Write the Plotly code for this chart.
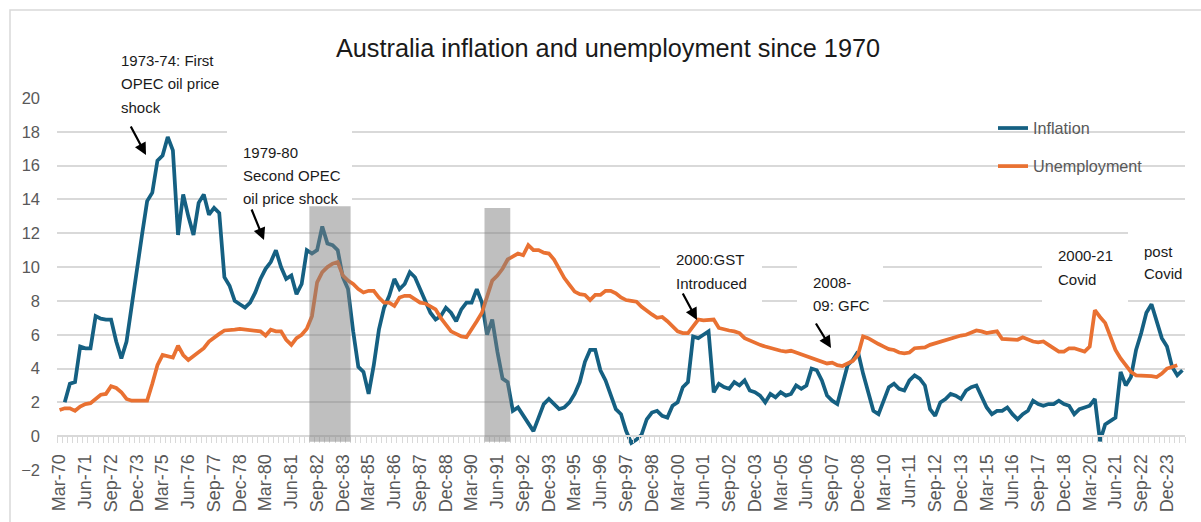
import plotly.graph_objects as go

# ---------------- data ----------------
MONTHS = ["Mar", "Jun", "Sep", "Dec"]
QUARTERS = [f"{m}-{y % 100:02d}" for y in range(1970, 2025) for m in MONTHS][:219]  # Mar-70 .. Sep-24

TICK_LABELS = ["Mar-70", "Jun-71", "Sep-72", "Dec-73", "Mar-75", "Jun-76", "Sep-77", "Dec-78",
               "Mar-80", "Jun-81", "Sep-82", "Dec-83", "Mar-85", "Jun-86", "Sep-87", "Dec-88",
               "Mar-90", "Jun-91", "Sep-92", "Dec-93", "Mar-95", "Jun-96", "Sep-97", "Dec-98",
               "Mar-00", "Jun-01", "Sep-02", "Dec-03", "Mar-05", "Jun-06", "Sep-07", "Dec-08",
               "Mar-10", "Jun-11", "Sep-12", "Dec-13", "Mar-15", "Jun-16", "Sep-17", "Dec-18",
               "Mar-20", "Jun-21", "Sep-22", "Dec-23"]

# Inflation (%), plotted from Jun-70
INFLATION_START = "Jun-70"
INFLATION = [
    2.0, 3.1, 3.2, 5.3, 5.2, 5.2, 7.1, 6.95, 6.9, 6.9,
    5.6, 4.6, 5.6, 7.8, 9.7, 11.9, 13.9, 14.4, 16.3, 16.6,
    17.7, 16.9, 11.9, 14.3, 13.0, 11.9, 13.8, 14.3, 13.1, 13.5,
    13.2, 9.4, 8.9, 8.0, 7.8, 7.6, 7.9, 8.5, 9.3, 9.9,
    10.3, 11.0, 10.0, 9.3, 9.5, 8.4, 9.0, 11.0, 10.8, 11.0,
    12.4, 11.4, 11.3, 11.0, 9.4, 8.7, 6.2, 4.1, 3.8, 2.5,
    4.2, 6.3, 7.6, 8.3, 9.3, 8.7, 9.0, 9.7, 9.4, 8.7,
    7.9, 7.3, 6.9, 7.1, 7.6, 7.3, 6.8, 7.5, 7.9, 7.9,
    8.7, 7.9, 6.0, 6.9, 5.0, 3.4, 3.2, 1.5, 1.7, 1.2,
    0.8, 0.3, 1.1, 1.9, 2.2, 1.9, 1.6, 1.7, 2.0, 2.5,
    3.2, 4.4, 5.1, 5.1, 3.9, 3.3, 2.4, 1.6, 1.3, 0.3,
    -0.4, -0.2, 0.1, 1.0, 1.4, 1.5, 1.2, 1.1, 1.8, 2.0,
    2.9, 3.2, 5.9, 5.8, 6.0, 6.2, 2.6, 3.1, 2.9, 2.8,
    3.2, 3.0, 3.3, 2.7, 2.6, 2.4, 2.0, 2.5, 2.3, 2.6,
    2.4, 2.5, 3.0, 2.8, 3.0, 4.0, 3.9, 3.3, 2.4, 2.1,
    1.9, 3.0, 4.2, 4.5, 5.0, 3.7, 2.5, 1.5, 1.3, 2.1,
    2.9, 3.1, 2.8, 2.7, 3.3, 3.6, 3.4, 3.0, 1.6, 1.2,
    2.0, 2.2, 2.5, 2.4, 2.2, 2.7, 2.9, 3.0, 2.3, 1.7,
    1.3, 1.5, 1.5, 1.7, 1.3, 1.0, 1.3, 1.5, 2.1, 1.9,
    1.8, 1.9, 1.9, 2.1, 1.9, 1.8, 1.3, 1.6, 1.7, 1.8,
    2.2, -0.3, 0.7, 0.9, 1.1, 3.8, 3.0, 3.5, 5.1, 6.1,
    7.3, 7.8, 6.8, 5.8, 5.3, 4.1, 3.6, 3.9,
]

# Unemployment rate (%), plotted from Mar-70
UNEMPLOYMENT_START = "Mar-70"
UNEMPLOYMENT = [
    1.55, 1.65, 1.65, 1.5, 1.75, 1.9, 1.95, 2.2, 2.45, 2.5,
    2.95, 2.85, 2.6, 2.2, 2.1, 2.1, 2.1, 2.1, 3.1, 4.2,
    4.8, 4.75, 4.65, 5.35, 4.8, 4.5, 4.75, 4.95, 5.2, 5.6,
    5.85, 6.05, 6.25, 6.25, 6.3, 6.35, 6.3, 6.25, 6.25, 6.2,
    5.95, 6.3, 6.2, 6.2, 5.7, 5.4, 5.8, 6.0, 6.35, 7.1,
    9.1, 9.7, 10.0, 10.2, 10.3, 9.5, 9.2, 9.0, 8.7, 8.5,
    8.6, 8.6, 8.2, 7.9, 7.9, 7.7, 8.2, 8.3, 8.3, 8.1,
    7.9, 7.85, 7.65, 7.5, 7.0, 6.6, 6.2, 6.05, 5.9, 5.85,
    6.3, 6.8, 7.3, 8.2, 9.2, 9.5, 9.9, 10.45, 10.6, 10.8,
    10.7, 11.3, 11.0, 11.0, 10.85, 10.8, 10.45, 9.85, 9.35, 8.95,
    8.55, 8.4, 8.35, 8.05, 8.35, 8.35, 8.6, 8.6, 8.45, 8.2,
    8.05, 8.0, 7.95, 7.65, 7.4, 7.2, 7.0, 7.05, 6.8, 6.5,
    6.2, 6.1, 6.1, 6.5, 6.9, 6.85, 6.85, 6.9, 6.4, 6.3,
    6.25, 6.2, 6.1, 5.8, 5.65, 5.5, 5.4, 5.3, 5.2, 5.1,
    5.05, 5.0, 5.05, 4.95, 4.85, 4.75, 4.6, 4.55, 4.45, 4.3,
    4.35, 4.2, 4.15, 4.3, 4.45, 4.8, 5.9, 5.8, 5.6, 5.45,
    5.3, 5.15, 5.1, 4.95, 4.9, 4.95, 5.2, 5.2, 5.25, 5.4,
    5.5, 5.6, 5.7, 5.75, 5.85, 5.95, 6.0, 6.15, 6.25, 6.2,
    6.1, 6.15, 6.2, 5.75, 5.75, 5.75, 5.7, 5.85, 5.7, 5.6,
    5.55, 5.6, 5.4, 5.2, 5.0, 5.0, 5.2, 5.2, 5.1, 5.0,
    5.3, 7.45, 7.05, 6.7, 5.9, 5.1, 4.6, 4.2, 3.8, 3.6,
    3.6, 3.55, 3.55, 3.5, 3.7, 4.0, 4.1, 4.2,
]

# Recession shading (first quarter, last quarter, bar height)
RECESSION_START = ["Jun-82", "Dec-90"]
RECESSION_END = ["Mar-84", "Dec-91"]
RECESSION_TOP = [13.6, 13.5]
RECESSION_BASE = -0.33

# annotation text, one list of lines per note
ANNOTATION_LINES = [
    ["1973-74: First", "OPEC oil price", "shock"],
    ["1979-80", "Second OPEC", "oil price shock"],
    ["2000:GST", "Introduced"],
    ["2008-", "09: GFC"],
    ["2000-21", "Covid"],
    ["post", "Covid"],
]

# ---------------- layout geometry (pixels) ----------------
W, H = 1201, 522
L, R, T, B = 57, 16, 98, 52
PW, PH = W - L - R, H - T - B
XMIN, XMAX = -0.5, len(QUARTERS) - 0.5
YMIN, YMAX = -2, 20


def paper_x(px):
    return (px - L) / PW


def paper_y(py):
    return (T + PH - py) / PH


def data_x(px):
    return XMIN + (px - L) / PW * (XMAX - XMIN)


def data_y(py):
    return YMIN + (T + PH - py) / PH * (YMAX - YMIN)


FONT = "Liberation Sans, Arial, sans-serif"
BLUE = "#156082"
ORANGE = "#E97132"
GRID = "#d9d9d9"
LABEL = "#595959"

fig = go.Figure()

i0 = QUARTERS.index(INFLATION_START)
fig.add_trace(go.Scatter(
    x=list(range(i0, i0 + len(INFLATION))), y=INFLATION, mode="lines", name="Inflation",
    line=dict(color=BLUE, width=3.75), legendgroup="a",
    hovertext=QUARTERS[i0:i0 + len(INFLATION)]))
u0 = QUARTERS.index(UNEMPLOYMENT_START)
fig.add_trace(go.Scatter(
    x=list(range(u0, u0 + len(UNEMPLOYMENT))), y=UNEMPLOYMENT, mode="lines", name="Unemployment",
    line=dict(color=ORANGE, width=3.75), legendgroup="b",
    hovertext=QUARTERS[u0:u0 + len(UNEMPLOYMENT)]))

shapes = []
for s, e, top in zip(RECESSION_START, RECESSION_END, RECESSION_TOP):
    shapes.append(dict(type="rect", xref="x", yref="y",
                       x0=QUARTERS.index(s) - 0.5, x1=QUARTERS.index(e) + 0.5,
                       y0=RECESSION_BASE, y1=top,
                       fillcolor="rgba(128,128,128,0.5)", line=dict(width=0), layer="above"))

# white text boxes behind the notes (hide the gridlines there)
MASKS = [(105, 230, 30, 118), (227, 352, 118, 205), (660, 762, 245, 308),
         (797, 883, 245, 318), (1042, 1128, 240, 306), (1128, 1201, 225, 292)]
for x0, x1, y0, y1 in MASKS:
    shapes.append(dict(type="rect", xref="x", yref="y",
                       x0=data_x(x0), x1=data_x(x1), y0=data_y(y1), y1=data_y(y0),
                       fillcolor="white", line=dict(width=0), layer="between"))

# chart-area border
shapes.append(dict(type="path", xref="paper", yref="paper",
                   path=f"M {paper_x(10)},{paper_y(530)} L {paper_x(10)},{paper_y(10)} L {paper_x(1210)},{paper_y(10)}",
                   line=dict(color=GRID, width=1.5), layer="above"))

annotations = []
NOTE_X = [120, 242, 675, 812, 1057, 1142.5]
NOTE_Y = [[60, 83.5, 107], [152, 175, 198], [259, 283], [282.7, 305.7], [255.7, 279], [251.7, 273.3]]
for lines, px, ys in zip(ANNOTATION_LINES, NOTE_X, NOTE_Y):
    for txt, py in zip(lines, ys):
        annotations.append(dict(xref="paper", yref="paper", x=paper_x(px), y=paper_y(py),
                                xanchor="left", yanchor="middle", align="left", showarrow=False,
                                text=txt, borderpad=0,
                                font=dict(family=FONT, size=15, color="#1a1a1a")))

ARROWS = [((130, 125), (146, 155)), ((251, 208), (264, 240)),
          ((682, 292), (697, 320)), ((815, 322), (831, 348))]
for (tx, ty), (hx, hy) in ARROWS:
    annotations.append(dict(xref="paper", yref="paper", x=paper_x(hx), y=paper_y(hy),
                            axref="pixel", ayref="pixel", ax=tx - hx, ay=ty - hy,
                            text="", showarrow=True, arrowhead=2, arrowsize=1.1,
                            arrowwidth=2.2, arrowcolor="#000000", standoff=0))

fig.update_layout(
    width=W, height=H,
    margin=dict(l=L, r=R, t=T, b=B, autoexpand=False),
    paper_bgcolor="white", plot_bgcolor="white",
    title=dict(text="Australia inflation and unemployment since 1970",
               xref="container", yref="container", x=608 / W, y=1 - 48 / H,
               xanchor="center", yanchor="middle",
               font=dict(family=FONT, size=25.3, color="#1a1a1a")),
    showlegend=True,
    legend=dict(x=paper_x(993), y=paper_y(111), xanchor="left", yanchor="top",
                bgcolor="rgba(0,0,0,0)", traceorder="grouped", tracegroupgap=14,
                font=dict(family=FONT, size=16.2, color=LABEL)),
    xaxis=dict(range=[XMIN, XMAX], tickmode="array",
               tickvals=[QUARTERS.index(t) for t in TICK_LABELS], ticktext=TICK_LABELS,
               tickangle=-90, tickfont=dict(family=FONT, size=18, color=LABEL),
               ticks="", ticklabelstandoff=10,
               minor=dict(tick0=-0.5, dtick=1, ticks="outside", ticklen=6,
                          tickcolor=GRID, tickwidth=1, showgrid=False),
               showgrid=False, zeroline=False, showline=True, linecolor=GRID, linewidth=1.5,
               anchor="free", position=(0 - YMIN) / (YMAX - YMIN), automargin=False),
    yaxis=dict(range=[YMIN, YMAX], tick0=0, dtick=2, showgrid=True, gridcolor=GRID,
               gridwidth=1.5, zeroline=False, showline=False, ticks="",
               ticklabelstandoff=16,
               tickfont=dict(family=FONT, size=16.5, color=LABEL), automargin=False),
    shapes=shapes, annotations=annotations,
)

fig.write_html("out.html", config={"displayModeBar": False},
               post_script="document.body.style.margin='0px';")
